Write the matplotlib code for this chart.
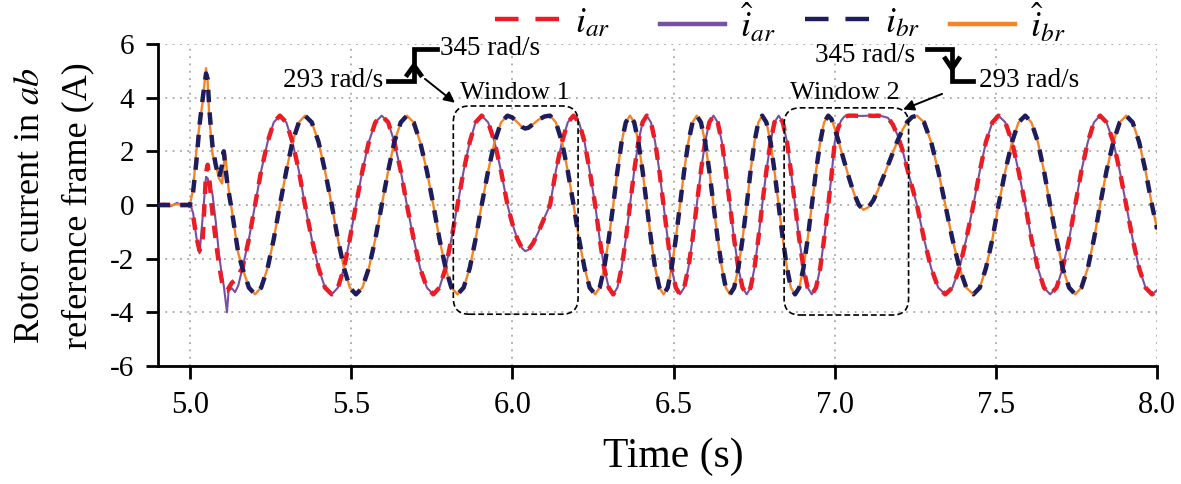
import matplotlib
matplotlib.use("Agg")
import matplotlib.pyplot as plt
from matplotlib.patches import FancyBboxPatch
from matplotlib.lines import Line2D

plt.rcParams['font.family'] = ['Liberation Serif', 'DejaVu Serif']
plt.rcParams['mathtext.fontset'] = 'stix'
plt.rcParams['axes.unicode_minus'] = False

# ---------------- data ----------------
# start-up transient (references and estimates differ here)
t_tr = [4.90, 4.92, 4.94, 4.96, 4.98, 5.00, 5.01, 5.02, 5.03, 5.04, 5.05, 5.055,
        5.06, 5.07, 5.08, 5.09, 5.10, 5.105, 5.11, 5.115, 5.12, 5.13, 5.14, 5.15]
i_ar_tr = [0, 0, 0, 0, 0, 0, -0.4, -1.2, -1.7, -1.2, 1.2, 1.5,
           1.0, -0.3, -1.3, -2.2, -2.9, -3.1, -3.2, -3.2, -3.1, -2.9, -2.8, -2.6]
i_ar_hat_tr = [0.0, 0.05, -0.05, 0.08, -0.04, 0.05, -0.3, -1.2, -1.8, -0.4, 1.05, 1.0,
               0.75, 0.4, -0.6, -1.8, -2.7, -3.0, -3.5, -4.0, -3.2, -3.1, -3.25, -3.0]
i_br_tr = [0, 0, 0, 0, 0, 0, 0.5, 1.6, 3.0, 4.0, 4.9, 4.7,
           3.6, 2.2, 1.5, 1.0, 1.5, 2.0, 1.4, 0.9, 0.5, -0.2, -1.0, -1.8]
i_br_hat_tr = [0, 0.02, -0.02, 0.03, 0, 0, 0.6, 2.0, 3.0, 3.9, 5.1, 4.6,
               3.3, 1.9, 1.5, 1.0, 0.8, 1.5, 1.9, 1.2, 0.6, -0.2, -1.0, -1.8]

# after the transient, references and estimates coincide
t_ss = [5.163, 5.183, 5.202, 5.221, 5.241, 5.260,
        5.279, 5.299, 5.318, 5.338, 5.357, 5.378, 5.399, 5.419, 5.440, 5.459, 5.478, 5.496, 5.515, 5.535, 5.555, 5.575,
        5.595, 5.615, 5.634, 5.654, 5.673, 5.694, 5.714, 5.735, 5.755, 5.774, 5.793, 5.811, 5.830, 5.849, 5.868, 5.886,
        5.905, 5.925, 5.945, 5.965, 5.985,
        6.000, 6.015, 6.030, 6.040, 6.050, 6.065, 6.080, 6.100, 6.117,
        6.135, 6.154, 6.172, 6.190,
        6.207, 6.224, 6.240, 6.257, 6.271, 6.285, 6.299, 6.313, 6.326, 6.339, 6.352, 6.365, 6.378, 6.391, 6.404, 6.417,
        6.430, 6.443, 6.456, 6.469, 6.482, 6.494, 6.507, 6.520, 6.533, 6.546, 6.559, 6.572, 6.585, 6.598, 6.611, 6.624,
        6.637, 6.650, 6.662, 6.675, 6.688, 6.701, 6.714, 6.727, 6.739, 6.751, 6.763, 6.775, 6.788, 6.801, 6.813, 6.826,
        6.839, 6.852, 6.864, 6.877, 6.890, 6.903, 6.916, 6.929, 6.942, 6.955, 6.967, 6.980,
        6.990, 7.000, 7.010, 7.020, 7.030, 7.045, 7.060, 7.075, 7.089, 7.105, 7.120, 7.135, 7.150, 7.165, 7.180,
        7.195, 7.210, 7.225, 7.240, 7.255,
        7.277, 7.299, 7.321, 7.343, 7.365, 7.387, 7.408, 7.430, 7.450, 7.469, 7.489,
        7.508, 7.529, 7.550, 7.570, 7.591, 7.610, 7.630, 7.649, 7.668, 7.688, 7.707, 7.727, 7.746, 7.765, 7.785, 7.804,
        7.823, 7.843, 7.864, 7.884, 7.904, 7.924, 7.944, 7.964, 7.984, 8.000]

i_ar_ss = [-2.35, -1.27, 0, 1.27, 2.35, 3.08,
           3.33, 3.08, 2.35, 1.27, 0, -1.27, -2.35, -3.08, -3.33, -3.08, -2.35, -1.27, 0, 1.27, 2.35, 3.08,
           3.33, 3.08, 2.35, 1.27, 0, -1.27, -2.35, -3.08, -3.33, -3.08, -2.35, -1.27, 0, 1.27, 2.35, 3.08,
           3.33, 3.08, 2.35, 1.27, 0,
           -0.69, -1.25, -1.61, -1.72, -1.67, -1.41, -1.03, -0.46, 0.0,
           1.27, 2.35, 3.08, 3.33,
           3.08, 2.35, 1.27, 0, -1.27, -2.35, -3.08, -3.33, -3.08, -2.35, -1.27, 0, 1.27, 2.35, 3.08, 3.33,
           3.08, 2.35, 1.27, 0, -1.27, -2.35, -3.08, -3.33, -3.08, -2.35, -1.27, 0, 1.27, 2.35, 3.08, 3.33,
           3.08, 2.35, 1.27, 0, -1.27, -2.35, -3.08, -3.33, -3.08, -2.35, -1.27, 0, 1.27, 2.35, 3.08, 3.33,
           3.08, 2.35, 1.27, 0, -1.27, -2.35, -3.08, -3.33, -3.08, -2.35, -1.27, 0,
           1.10, 2.35, 2.85, 3.15, 3.30, 3.33, 3.33, 3.32, 3.32, 3.33, 3.32, 3.33, 3.30, 3.25, 3.00,
           2.60, 2.05, 1.35, 0.68, 0.00,
           -1.27, -2.35, -3.08, -3.33, -3.08, -2.35, -1.27, 0, 1.27, 2.35, 3.08,
           3.33, 3.08, 2.35, 1.27, 0, -1.27, -2.35, -3.08, -3.33, -3.08, -2.35, -1.27, 0, 1.27, 2.35, 3.08,
           3.33, 3.08, 2.35, 1.27, 0, -1.27, -2.35, -3.08, -3.33, -3.17]

i_br_ss = [-2.35, -3.08, -3.33, -3.08, -2.35, -1.27,
           0, 1.27, 2.35, 3.08, 3.33, 3.08, 2.35, 1.27, 0, -1.27, -2.35, -3.08, -3.33, -3.08, -2.35, -1.27,
           0, 1.27, 2.35, 3.08, 3.33, 3.08, 2.35, 1.27, 0, -1.27, -2.35, -3.08, -3.33, -3.08, -2.35, -1.27,
           0, 1.27, 2.35, 3.08, 3.33,
           3.26, 3.09, 2.91, 2.85, 2.88, 3.02, 3.17, 3.30, 3.33,
           3.08, 2.35, 1.27, 0,
           -1.27, -2.35, -3.08, -3.33, -3.08, -2.35, -1.27, 0, 1.27, 2.35, 3.08, 3.33, 3.08, 2.35, 1.27, 0,
           -1.27, -2.35, -3.08, -3.33, -3.08, -2.35, -1.27, 0, 1.27, 2.35, 3.08, 3.33, 3.08, 2.35, 1.27, 0,
           -1.27, -2.35, -3.08, -3.33, -3.08, -2.35, -1.27, 0, 1.27, 2.35, 3.08, 3.33, 3.08, 2.35, 1.27, 0,
           -1.27, -2.35, -3.08, -3.33, -3.08, -2.35, -1.27, 0, 1.27, 2.35, 3.08, 3.33,
           3.20, 2.85, 2.45, 2.02, 1.60, 0.98, 0.42, 0.0, -0.18, -0.08, 0.18, 0.58, 1.02, 1.48, 1.95,
           2.40, 2.80, 3.10, 3.28, 3.33,
           3.08, 2.35, 1.27, 0, -1.27, -2.35, -3.08, -3.33, -3.08, -2.35, -1.27,
           0, 1.27, 2.35, 3.08, 3.33, 3.08, 2.35, 1.27, 0, -1.27, -2.35, -3.08, -3.33, -3.08, -2.35, -1.27,
           0, 1.27, 2.35, 3.08, 3.33, 3.08, 2.35, 1.27, 0, -0.9]

series_labels = [r'$i_{ar}$', r'$\hat{i}_{ar}$', r'$i_{br}$', r'$\hat{i}_{br}$']
x_ticks = [5.0, 5.5, 6.0, 6.5, 7.0, 7.5, 8.0]
y_ticks = [-6, -4, -2, 0, 2, 4, 6]

# full series
t_all = t_tr + t_ss
i_ar = i_ar_tr + i_ar_ss
i_ar_hat = i_ar_hat_tr + i_ar_ss
i_br = i_br_tr + i_br_ss
i_br_hat = i_br_hat_tr + i_br_ss

# ---------------- figure ----------------
C_RED = '#EC1C24'
C_PUR = '#7650A3'
C_NAV = '#1D1C5C'
C_ORA = '#F58426'

fig = plt.figure(figsize=(11.81, 4.84), dpi=100)
ax = fig.add_axes([0.1335, 0.2438, 0.8463, 0.6653])

ax.plot(t_all, i_ar_hat, color=C_PUR, lw=1.5, zorder=3)
ax.plot(t_all, i_br_hat, color=C_ORA, lw=1.7, zorder=4)
ax.plot(t_all, i_ar, color=C_RED, lw=3.2, dashes=(2.8, 2.3), zorder=5)
ax.plot(t_all, i_br, color=C_NAV, lw=3.2, dashes=(2.8, 2.3), zorder=6)

ax.set_xlim(4.9, 8.0)
ax.set_ylim(-6, 6)
ax.set_xticks(x_ticks)
ax.set_xticklabels([f'{v:.1f}' for v in x_ticks])
ax.set_yticks(y_ticks)
ax.set_yticklabels([str(v) for v in y_ticks])
ax.grid(True, color='#9a9a9a', lw=1.1, linestyle=(0, (1.2, 3.6)))
ax.set_axisbelow(True)
for s in ['top', 'right']:
    ax.spines[s].set_visible(False)
for s in ['left', 'bottom']:
    ax.spines[s].set_linewidth(2.0)
ax.tick_params(direction='out', length=9, width=2, labelsize=21, pad=8)
ax.tick_params(axis='x', labelsize=22, pad=9)

ax.set_xlabel('Time (s)', fontsize=30)
ax.xaxis.label.set_va('center')
ax.xaxis.set_label_coords(0.516, -0.283)
fig.text(0.026, 0.576, r'Rotor current in $ab$', rotation=90, fontsize=26,
         ha='center', va='center')
fig.text(0.066, 0.576, 'reference frame (A)', rotation=90, fontsize=26,
         ha='center', va='center')

# legend: one entry per slot, placed like the reference
handles = [Line2D([], [], color=C_RED, lw=3.2, dashes=(5.3, 3.8)),
           Line2D([], [], color=C_PUR, lw=3.2),
           Line2D([], [], color=C_NAV, lw=3.2, dashes=(5.3, 3.8)),
           Line2D([], [], color=C_ORA, lw=3.2)]
slot_x = [0.419, 0.559, 0.6815, 0.8045]
for h, lab, sx in zip(handles, series_labels, slot_x):
    fig.legend([h], [lab], loc='center left', bbox_to_anchor=(sx, 0.952),
               frameon=False, fontsize=26, handlelength=1.8, handletextpad=0.42,
               borderpad=0, borderaxespad=0)

# annotations
kw = dict(color='k', lw=3.4, clip_on=False, solid_joinstyle='miter', zorder=8)
ax.plot([5.614, 5.695, 5.695, 5.766], [4.63, 4.63, 5.82, 5.82], **kw)
ax.plot([5.674, 5.695, 5.716], [4.85, 5.2, 4.85], **kw)
ax.plot([7.287, 7.364, 7.364, 7.429], [5.82, 5.82, 4.63, 4.63], **kw)
ax.plot([7.343, 7.364, 7.385], [5.45, 5.08, 5.45], **kw)

ax.text(5.600, 4.63, '293 rad/s', fontsize=19.5, ha='right', va='center', zorder=8)
ax.text(5.776, 5.82, '345 rad/s', fontsize=19.5, ha='left', va='center', zorder=8)
ax.text(7.250, 5.56, '345 rad/s', fontsize=19.5, ha='right', va='center', zorder=8)
ax.text(7.449, 4.63, '293 rad/s', fontsize=19.5, ha='left', va='center', zorder=8)
ax.text(6.008, 4.18, 'Window 1', fontsize=19, ha='center', va='center', zorder=8)
ax.text(7.032, 4.18, 'Window 2', fontsize=19, ha='center', va='center', zorder=8)

apk = dict(arrowstyle='-|>', lw=1.4, color='k', mutation_scale=16, shrinkA=0, shrinkB=0)
ax.annotate('', xy=(5.822, 3.81), xytext=(5.729, 4.70), arrowprops=apk, zorder=8)
ax.annotate('', xy=(7.212, 3.56), xytext=(7.333, 4.14), arrowprops=apk, zorder=8)

for (x0, x1, y0, y1) in [(5.817, 6.204, -4.07, 3.69), (6.843, 7.229, -4.10, 3.62)]:
    box = FancyBboxPatch((x0, y0), x1 - x0, y1 - y0,
                         boxstyle='round,pad=0,rounding_size=0.05',
                         mutation_aspect=12.0, fill=False, ec='k', lw=1.2,
                         ls=(0, (3.5, 1.8)), zorder=7)
    ax.add_patch(box)

fig.savefig('out.png', dpi=100)
